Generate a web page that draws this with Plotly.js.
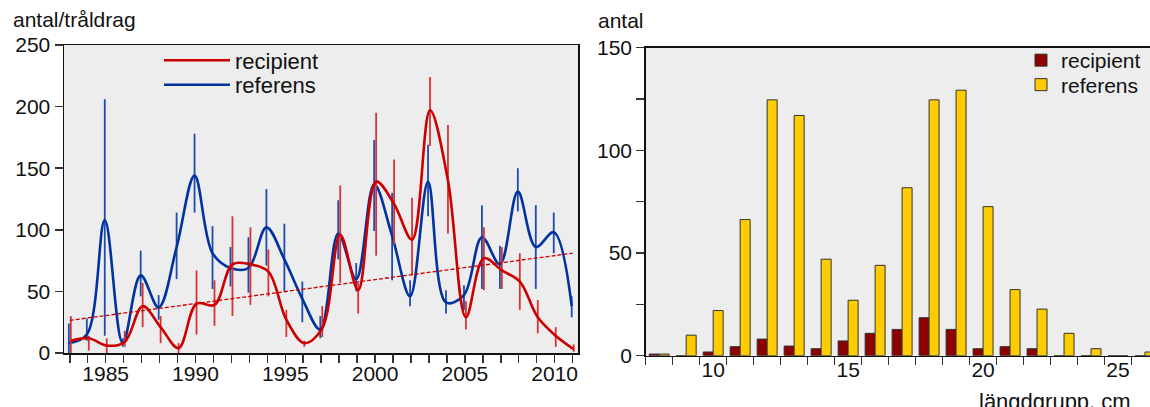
<!DOCTYPE html>
<html>
<head>
<meta charset="utf-8">
<script src="https://cdn.plot.ly/plotly-3.0.1.min.js"></script>
<style>html,body{margin:0;padding:0;background:#fff;}#chart{width:1150px;height:407px;}</style>
</head>
<body>
<div id="chart"></div>
<script>
// ---- Left chart: antal/tråldrag per year ----
const years = [1983,1984,1985,1986,1987,1988,1989,1990,1991,1992,1993,1994,1995,1996,1997,1998,1999,2000,2001,2002,2003,2004,2005,2006,2007,2008,2009,2010,2011];

const recipient      = [10,12,6,9,38,21,4,40,39,72,72,66,27,8,20,96,51,139,121,92,197,140,29,77,67,58,29,14,3];
const recipientUpper = [30,14,12,18,57,30,8,67,59,111,102,84,35,10,38,136,57,195,157,126,224,185,42,102,86,81,43,21,7];
const recipientLower = [-4,2,-1,5,21,8,0,15,22,30,39,46,13,5,13,57,32,79,88,63,168,97,19,51,52,35,16,5,1];

const referens      = [8,15,108,8,63,37,86,144,81,69,69,102,76,44,19,97,60,137,95,46,139,41,47,94,72,131,86,98,38];
const referensUpper = [24,28,206,12,83,47,114,178,103,86,94,133,105,58,30,124,73,173,130,59,169,51,55,120,87,150,120,114,46];
const referensLower = [-8,10,14,5,46,27,60,114,52,54,49,71,50,25,12,76,50,99,59,38,111,32,35,52,52,115,52,81,29];

const trendYears  = [1983, 2011];
const trendValues = [26.5, 81];

// ---- Right chart: antal per längdgrupp ----
const lengthGroups   = [8,9,10,11,12,13,14,15,16,17,18,19,20,21,22,23,24,25,26];
const recipientBars  = [0.8,0,1.8,4.4,8.1,4.7,3.4,7.2,10.9,12.8,18.5,12.8,3.4,4.4,3.4,0,0,0,0];
const referensBars   = [0.8,10,22,66.3,124.6,117,47,27,44,81.8,124.6,129.3,72.6,32.2,22.7,10.9,3.4,0,1.8];

const leftYTicks  = [0,50,100,150,200,250];
const rightYTicks = [0,50,100,150];
const rightXTicks = [10,15,20,25];

const FONT = 'Liberation Sans, Arial, Helvetica, sans-serif';
const RED = 'rgb(204,0,0)';
const RED_ERR = 'rgb(214,52,52)';
const BLUE = 'rgb(0,51,160)';
const BLUE_ERR = 'rgb(30,75,175)';

const W = 1150, H = 407;
const px = v => v / W;
const py = v => 1 - v / H;

const diff = (a, b) => a.map((v, i) => v - b[i]);

const traces = [
  {
    x: years.map(y => y - 0.05), y: referens, name: 'referens', type: 'scatter', mode: 'lines',
    line: {color: BLUE, width: 2.6, shape: 'spline', smoothing: 1},
    error_y: {type: 'data', symmetric: false, array: diff(referensUpper, referens), arrayminus: diff(referens, referensLower), width: 0, thickness: 1.8, color: BLUE_ERR},
    xaxis: 'x', yaxis: 'y', legend: 'legend3'
  },
  {
    x: years.map(y => y + 0.06), y: recipient, name: 'recipient', type: 'scatter', mode: 'lines',
    line: {color: RED, width: 2.6, shape: 'spline', smoothing: 1},
    error_y: {type: 'data', symmetric: false, array: diff(recipientUpper, recipient), arrayminus: diff(recipient, recipientLower), width: 0, thickness: 1.8, color: RED_ERR},
    xaxis: 'x', yaxis: 'y', legend: 'legend'
  },
  {
    x: trendYears, y: trendValues, type: 'scatter', mode: 'lines', showlegend: false,
    line: {color: RED, width: 1.3, dash: '4px,2px'}, xaxis: 'x', yaxis: 'y', hoverinfo: 'skip'
  },
  {
    x: lengthGroups, y: recipientBars, name: 'recipient', type: 'bar',
    marker: {color: 'rgb(140,0,0)', line: {color: '#333', width: 1}},
    xaxis: 'x2', yaxis: 'y2', legend: 'legend2'
  },
  {
    x: lengthGroups, y: referensBars, name: 'referens', type: 'bar',
    marker: {color: 'rgb(255,204,0)', line: {color: '#333', width: 1}},
    xaxis: 'x2', yaxis: 'y2', legend: 'legend4'
  }
];

const axisCommon = {
  showline: true, linecolor: '#111', linewidth: 1.5, mirror: true,
  ticks: 'outside', ticklen: 8, tickwidth: 1.5, tickcolor: '#333',
  showgrid: false, zeroline: false,
  tickfont: {family: FONT, size: 21, color: '#111'}
};

const legendBase = {xanchor: 'left', yanchor: 'middle', bgcolor: 'rgba(0,0,0,0)', borderwidth: 0};

const layout = {
  width: W, height: H,
  margin: {l: 0, r: 0, t: 0, b: 0, autoexpand: false},
  paper_bgcolor: '#fff', plot_bgcolor: '#ededed',
  font: {family: FONT, size: 21, color: '#111'},
  barmode: 'group', bargap: 0.26, bargroupgap: 0,
  xaxis: Object.assign({}, axisCommon, {
    domain: [px(64), px(578)], range: [1982.68, 2011.3],
    tickmode: 'linear', tick0: 1980, dtick: 5, ticklabelstandoff: -7,
    minor: {tickmode: 'linear', tick0: 1980, dtick: 1, ticks: 'outside', ticklen: 8, tickwidth: 1.5, tickcolor: '#333'},
    anchor: 'y'
  }),
  yaxis: Object.assign({}, axisCommon, {
    domain: [py(353), py(45)], range: [0, 250],
    tickmode: 'array', tickvals: leftYTicks, anchor: 'x'
  }),
  xaxis2: Object.assign({}, axisCommon, {
    domain: [px(645.7), 1], range: [7.5, 26.185],
    tickmode: 'array', tickvals: rightXTicks, ticks: '', ticklen: 0, ticklabelstandoff: -5,
    minor: {tickmode: 'linear', tick0: 7.5, dtick: 1, ticks: 'outside', ticklen: 8, tickwidth: 1.5, tickcolor: '#333'},
    anchor: 'y2'
  }),
  yaxis2: Object.assign({}, axisCommon, {
    domain: [py(355.7), py(47.7)], range: [0, 150],
    tickmode: 'array', tickvals: rightYTicks,
    minor: {tickmode: 'linear', tick0: 0, dtick: 25, ticks: 'outside', ticklen: 8, tickwidth: 1.5, tickcolor: '#333'},
    anchor: 'x2'
  }),
  legend:  Object.assign({}, legendBase, {x: px(159), y: py(60.5), itemwidth: 66, font: {family: FONT, size: 22, color: '#111'}}),
  legend3: Object.assign({}, legendBase, {x: px(159), y: py(85), itemwidth: 66, font: {family: FONT, size: 22, color: '#111'}}),
  legend2: Object.assign({}, legendBase, {x: px(1021), y: py(60.5), itemwidth: 30, font: {family: FONT, size: 21, color: '#111'}}),
  legend4: Object.assign({}, legendBase, {x: px(1021), y: py(85), itemwidth: 30, font: {family: FONT, size: 21, color: '#111'}}),
  annotations: [
    {text: 'antal/tråldrag', xref: 'paper', yref: 'paper', x: px(11), y: py(33.5), xanchor: 'left', yanchor: 'bottom', showarrow: false, font: {family: FONT, size: 21, color: '#111'}},
    {text: 'antal', xref: 'paper', yref: 'paper', x: px(596), y: py(34), xanchor: 'left', yanchor: 'bottom', showarrow: false, font: {family: FONT, size: 21, color: '#111'}},
    {text: 'längdgrupp, cm', xref: 'paper', yref: 'paper', x: px(977), y: py(401), xanchor: 'left', yanchor: 'middle', showarrow: false, font: {family: FONT, size: 22, color: '#111'}}
  ],
  showlegend: true
};

Plotly.newPlot('chart', traces, layout, {staticPlot: true, displayModeBar: false});
</script>
</body>
</html>
